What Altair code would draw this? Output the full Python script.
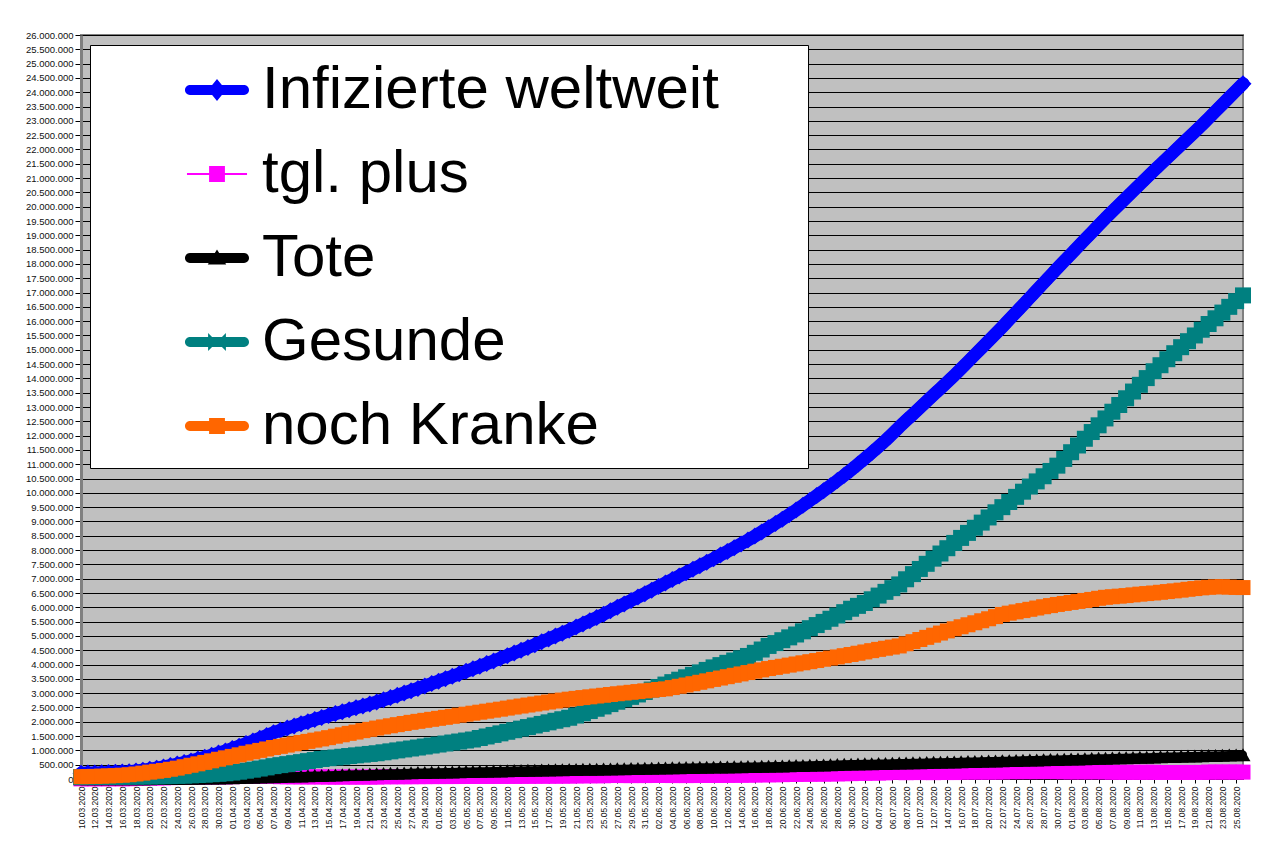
import altair as alt
import pandas as pd

# ---------------- data (values in thousands) ----------------
start_date = "2020-03-10"
n_days = 170
dates = [d.strftime("%d.%m.%Y") for d in pd.date_range(start_date, periods=n_days, freq="D")]

infizierte = [200, 207, 214, 222, 230, 238, 246, 255,
              280, 310, 345, 380, 420, 468, 520,
              575, 633, 695, 760, 830, 905, 980,
              1062, 1148, 1237, 1328, 1420, 1518, 1620,
              1700, 1778, 1855, 1930, 2003, 2077, 2150,
              2218, 2285, 2352, 2420, 2487, 2555, 2622, 2690,
              2768, 2846, 2925, 3005, 3085, 3167, 3250,
              3334, 3419, 3504, 3590, 3676, 3763, 3850,
              3941, 4033, 4125, 4218, 4311, 4405, 4500,
              4597, 4695, 4794, 4894, 4995, 5097, 5200,
              5308, 5418, 5530, 5643, 5757, 5878, 6000,
              6119, 6238, 6358, 6478, 6600, 6724, 6850,
              6970, 7090, 7210, 7330, 7452, 7575, 7700,
              7826, 7954, 8084, 8216, 8350,
              8490, 8634, 8780, 8928, 9080, 9238, 9400,
              9565, 9733, 9903, 10075, 10250, 10428, 10612, 10800,
              10998, 11200, 11405, 11615, 11830, 12062, 12300,
              12525, 12750, 12975, 13200, 13425, 13650, 13875, 14100,
              14340, 14582, 14825, 15068, 15310, 15555, 15800,
              16055, 16310, 16566, 16822, 17078, 17336, 17593, 17850,
              18100, 18350, 18600, 18850, 19100, 19350, 19600,
              19838, 20075, 20310, 20545, 20780, 21015, 21250,
              21478, 21706, 21934, 22162, 22392, 22620, 22850,
              23092, 23334, 23576, 23818, 24060, 24300]

tgl_plus = [4, 7, 7, 8, 8, 8, 8, 9,
            25, 30, 35, 35, 40, 48, 52,
            55, 58, 62, 65, 70, 75, 75,
            82, 86, 89, 91, 92, 98, 102,
            80, 78, 77, 75, 73, 74, 73,
            68, 67, 67, 68, 67, 68, 67, 68,
            78, 78, 79, 80, 80, 82, 83,
            84, 85, 85, 86, 86, 87, 87,
            91, 92, 92, 93, 93, 94, 95,
            97, 98, 99, 100, 101, 102, 103,
            108, 110, 112, 113, 114, 121, 122,
            119, 119, 120, 120, 122, 124, 126,
            120, 120, 120, 120, 122, 123, 125,
            126, 128, 130, 132, 134,
            140, 144, 146, 148, 152, 158, 162,
            165, 168, 170, 172, 175, 178, 184, 188,
            198, 202, 205, 210, 215, 232, 238,
            220, 228, 224, 226, 222, 230, 226, 225,
            240, 242, 243, 243, 242, 245, 245,
            255, 255, 256, 256, 256, 258, 257, 257,
            252, 248, 251, 249, 250, 252, 248,
            238, 237, 235, 236, 234, 235, 236,
            228, 228, 228, 228, 230, 228, 230,
            242, 242, 242, 242, 242, 240]

tote = [4.3, 4.6, 5.0, 5.4, 5.8, 6.5, 7.2, 8.0,
        9.0, 10.0, 11.4, 13.0, 14.6, 16.6, 19.0,
        22, 25, 28, 31, 34, 38, 42,
        47, 53, 59, 65, 70, 75, 82,
        89, 95, 102, 108, 114, 120, 126,
        134, 141, 148, 155, 162, 169, 176, 183,
        190, 197, 204, 211, 217, 223, 228,
        233, 238, 243, 248, 253, 258, 263,
        268, 273, 278, 283, 288, 293, 297,
        302, 306, 311, 315, 320, 325, 329,
        333, 337, 341, 344, 348, 351, 355,
        359, 364, 368, 373, 377, 381, 385,
        390, 394, 398, 403, 407, 411, 415,
        418, 422, 426, 430, 433,
        438, 443, 448, 453, 458, 463, 468,
        473, 479, 485, 491, 498, 505, 512, 520,
        525, 530, 535, 540, 545, 550, 556,
        561, 566, 571, 576, 582, 587, 592, 598,
        603, 609, 614, 620, 625, 630, 636,
        642, 648, 654, 660, 666, 672, 678, 685,
        691, 697, 703, 709, 715, 721, 728,
        734, 740, 746, 752, 758, 764, 770,
        776, 782, 788, 794, 800, 806, 812,
        818, 825, 831, 837, 843, 850]

gesunde = [66, 68, 70, 72, 74, 76, 78, 80,
           84, 87, 90, 94, 98, 103, 110,
           118, 128, 140, 153, 166, 182, 200,
           225, 255, 290, 325, 365, 405, 450,
           485, 520, 555, 590, 625, 662, 700,
           727, 752, 777, 802, 827, 852, 876, 900,
           933, 966, 1000, 1033, 1066, 1100, 1135,
           1170, 1205, 1240, 1275, 1310, 1345, 1380,
           1432, 1486, 1540, 1595, 1650, 1705, 1760,
           1815, 1870, 1925, 1980, 2035, 2088, 2140,
           2218, 2296, 2375, 2455, 2535, 2617, 2700,
           2785, 2870, 2955, 3040, 3125, 3212, 3300,
           3385, 3470, 3555, 3640, 3725, 3812, 3900,
           3980, 4060, 4140, 4220, 4300,
           4410, 4525, 4650, 4750, 4850, 4950, 5050,
           5160, 5270, 5380, 5490, 5600, 5715, 5830, 5950,
           6050, 6150, 6280, 6410, 6540, 6670, 6800,
           6980, 7160, 7340, 7520, 7700, 7880, 8065, 8250,
           8425, 8600, 8780, 8960, 9140, 9320, 9500,
           9680, 9860, 10040, 10220, 10400, 10580, 10765, 10950,
           11185, 11420, 11655, 11890, 12125, 12360, 12600,
           12835, 13070, 13305, 13540, 13775, 14010, 14250,
           14460, 14670, 14880, 15090, 15300, 15500, 15700,
           15900, 16100, 16300, 16500, 16700, 16900]

noch_kranke = [80, 85, 92, 100, 108, 118, 132, 150,
               175, 205, 240, 270, 300, 340, 380,
               430, 480, 530, 580, 635, 690, 740,
               790, 845, 900, 950, 1000, 1050, 1100,
               1140, 1185, 1230, 1275, 1315, 1358, 1400,
               1445, 1495, 1545, 1595, 1640, 1690, 1735, 1780,
               1820, 1860, 1900, 1940, 1980, 2015, 2050,
               2085, 2120, 2155, 2190, 2230, 2265, 2300,
               2335, 2370, 2405, 2440, 2478, 2515, 2550,
               2585, 2620, 2655, 2690, 2725, 2758, 2790,
               2818, 2845, 2872, 2900, 2926, 2953, 2980,
               3005, 3030, 3055, 3080, 3103, 3127, 3150,
               3195, 3240, 3285, 3330, 3380, 3430, 3480,
               3528, 3576, 3624, 3672, 3720,
               3767, 3813, 3860, 3900, 3940, 3980, 4020,
               4060, 4100, 4140, 4185, 4225, 4265, 4310, 4350,
               4395, 4440, 4485, 4530, 4570, 4610, 4650,
               4725, 4800, 4875, 4950, 5025, 5100, 5175, 5250,
               5320, 5390, 5460, 5530, 5600, 5675, 5750,
               5795, 5840, 5885, 5930, 5975, 6020, 6060, 6100,
               6135, 6170, 6205, 6240, 6275, 6315, 6350,
               6370, 6390, 6410, 6435, 6460, 6480, 6500,
               6525, 6550, 6575, 6600, 6630, 6655, 6680,
               6700, 6715, 6720, 6705, 6695, 6690]

names = ["Infizierte weltweit", "tgl. plus", "Tote", "Gesunde", "noch Kranke"]
series_values = [infizierte, tgl_plus, tote, gesunde, noch_kranke]
colors = ["#0000FF", "#FF00FF", "#000000", "#008080", "#FF6600"]
y_ticks = list(range(0, 26_000_001, 500_000))

for vals in series_values:
    assert len(vals) == n_days, len(vals)

rows = []
for name, vals in zip(names, series_values):
    for d, v in zip(dates, vals):
        rows.append({"d": d, "s": name, "v": v * 1000})
df = pd.DataFrame(rows)

# ---------------- styles ----------------
FONT = "Liberation Sans"
thick_line = "M-0.82,-0.15L0.82,-0.15A0.15,0.15 0 0 1 0.82,0.15L-0.82,0.15A0.15,0.15 0 0 1 -0.82,-0.15Z"
legend_paths = [
    thick_line + " M-0.27,0L0,-0.33L0.27,0L0,0.33Z",
    "M-0.91,-0.03L0.91,-0.03L0.91,0.03L-0.91,0.03Z M-0.24,-0.24L0.24,-0.24L0.24,0.24L-0.24,0.24Z",
    thick_line + " M0,-0.26L0.28,0.2L-0.28,0.2Z",
    thick_line + " M-0.27,-0.27L0,0L-0.27,0.27Z M0.27,-0.27L0.27,0.27L0,0Z",
    thick_line + " M-0.24,-0.24L0.24,-0.24L0.24,0.24L-0.24,0.24Z",
]
marker_style = {
    "Infizierte weltweit": dict(shape="diamond", size=289, line=13),
    "tgl. plus": dict(shape="square", size=225, line=2),
    "Tote": dict(shape="triangle-up", size=225, line=8),
    "Gesunde": dict(shape="square", size=256, line=10),
    "noch Kranke": dict(shape="square", size=225, line=10),
}

x_enc = alt.X(
    "d:O",
    scale=alt.Scale(domain=dates, padding=0),
    axis=alt.Axis(
        values=dates[::2], labelAngle=270, labelFontSize=8.5, labelFont=FONT,
        labelColor="#111111", labelPadding=3, tickSize=4, tickColor="#000000",
        domainColor="#000000", domainWidth=1, grid=False, labelOverlap=False, title=None,
    ),
)
y_enc = alt.Y(
    "v:Q",
    scale=alt.Scale(domain=[0, 26_000_000], nice=False, zero=True),
    axis=alt.Axis(
        values=y_ticks,
        labelExpr="datum.value == 0 ? '0' : replace(replace(format(datum.value, ','), ',', '.'), ',', '.')",
        labelFontSize=9.5, labelFont=FONT, labelColor="#111111", labelPadding=2,
        tickSize=6, tickColor="#000000", grid=True, gridColor="#000000", gridWidth=1,
        domainColor="#808080", domainWidth=3, minExtent=68, maxExtent=68, title=None,
    ),
)

base = alt.Chart(df).encode(x=x_enc, y=y_enc)

layers = []
for name, col in zip(names, colors):
    st = marker_style[name]
    sub = base.transform_filter(alt.datum.s == name)
    layers.append(sub.mark_line(color=col, strokeWidth=st["line"], strokeJoin="round", strokeCap="round"))
    layers.append(sub.mark_point(filled=True, shape=st["shape"], size=st["size"], color=col,
                                 opacity=1, strokeWidth=0))

leg = alt.Legend(
    title="M", titleOrient="right", titleFontSize=66, titleColor="rgba(0,0,0,0)", titlePadding=22,
    orient="none", legendX=9, legendY=10, padding=12, rowPadding=21,
    fillColor="#FFFFFF", strokeColor="#000000", labelFontSize=60, labelFont=FONT,
    labelColor="#000000", labelLimit=3000, symbolSize=66 * 66, symbolOffset=82,
    labelOffset=12, symbolStrokeWidth=0, symbolOpacity=1,
)
legend_layer = base.transform_filter("datum.v < 0").mark_point(filled=True, opacity=1).encode(
    color=alt.Color("s:N", scale=alt.Scale(domain=names, range=colors), legend=leg),
    shape=alt.Shape("s:N", scale=alt.Scale(domain=names, range=legend_paths), legend=leg),
)
layers.append(legend_layer)

chart = (
    alt.layer(*layers)
    .properties(width=1162, height=744, padding={"left": 5, "top": 22, "right": 5, "bottom": 5},
                background="#FFFFFF")
    .configure_view(fill="#C0C0C0", stroke="#808080", strokeWidth=2)
)

chart.save("out.html", embed_options={"renderer": "svg", "actions": False})
